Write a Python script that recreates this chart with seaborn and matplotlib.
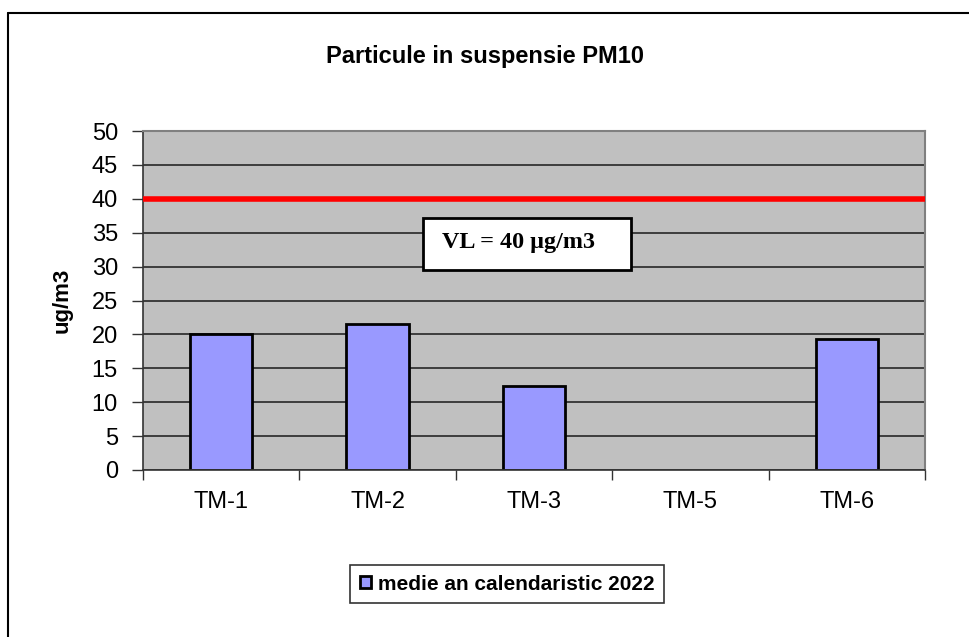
import pandas as pd
import seaborn as sns
import matplotlib.pyplot as plt
from matplotlib.lines import Line2D
from matplotlib.patches import Rectangle

# Chart data
stations = ["TM-1", "TM-2", "TM-3", "TM-5", "TM-6"]
pm10_mean = [20.0, 21.5, 12.4, float("nan"), 19.3]
series_label = "medie an calendaristic 2022"
limit_value = 40
limit_text = "VL = 40 µg/m3"
y_ticks = list(range(0, 55, 5))

df = pd.DataFrame({"station": stations, "value": pm10_mean})

sns.set_style("white")
plt.rcParams["font.family"] = ["Liberation Sans", "DejaVu Sans"]
plt.rcParams["text.color"] = "black"
plt.rcParams["axes.labelcolor"] = "black"
plt.rcParams["xtick.color"] = "black"
plt.rcParams["ytick.color"] = "black"

fig = plt.figure(figsize=(9.7, 6.37), dpi=100)
ax = fig.add_axes([0.1474, 0.2622, 0.8062, 0.5321])
ax.set_facecolor("#C0C0C0")

# Grid lines behind the bars
ax.set_axisbelow(True)
ax.yaxis.grid(True, color="#333333", lw=1.3)

sns.barplot(
    data=df,
    x="station",
    y="value",
    color="#9999FF",
    saturation=1,
    width=0.4,
    edgecolor="black",
    linewidth=2,
    label=series_label,
    ax=ax,
)
if ax.get_legend() is not None:
    ax.get_legend().remove()

# Limit value line
ax.axhline(limit_value, color="#FF0000", lw=4, zorder=3)

ax.set_ylim(0, 50)
ax.set_xlim(-0.5, len(stations) - 0.5)
ax.set_yticks(y_ticks)
ax.tick_params(axis="y", labelsize=17, length=8, width=1, color="#333333",
               labelcolor="black", direction="out", left=True, pad=10)
ax.tick_params(axis="x", which="major", labelsize=17, length=0, pad=15,
               labelcolor="black")
ax.set_xticks([i - 0.5 for i in range(len(stations) + 1)], minor=True)
ax.tick_params(axis="x", which="minor", length=7, width=1, color="#333333",
               direction="out", bottom=True)

ax.set_xlabel("")
ax.set_ylabel("ug/m3", fontsize=16, fontweight="bold", labelpad=14)

for side in ["top", "right"]:
    ax.spines[side].set_color("#808080")
    ax.spines[side].set_linewidth(1.5)
for side in ["left", "bottom"]:
    ax.spines[side].set_color("#333333")
    ax.spines[side].set_linewidth(1.2)

# Limit value text box
ax.add_patch(Rectangle((1.29, 29.5), 1.33, 7.6, facecolor="white",
                       edgecolor="black", linewidth=2, zorder=5))
ax.text(1.90, 33.5, limit_text, ha="center", va="center", fontsize=17.4,
        fontweight="bold", family=["Liberation Serif", "DejaVu Serif"],
        zorder=6)

fig.text(0.5, 1 - 57 / 637, "Particule in suspensie PM10", ha="center",
         va="center", fontsize=17, fontweight="bold")

handles, labels = ax.get_legend_handles_labels()
leg = fig.legend(handles[:1], labels[:1], loc="center",
                 bbox_to_anchor=(507 / 970, 1 - 584 / 637),
                 fontsize=15, frameon=True, fancybox=False,
                 handlelength=0.55, handleheight=0.55, handletextpad=0.3,
                 borderpad=0.45, borderaxespad=0)
leg.get_frame().set_edgecolor("black")
leg.get_frame().set_linewidth(1.2)
for t in leg.get_texts():
    t.set_fontweight("bold")

# Outer chart border (top and left only visible)
fig.add_artist(Line2D([8 / 970, 1], [1 - 13 / 637, 1 - 13 / 637],
                      color="black", lw=1.5, transform=fig.transFigure))
fig.add_artist(Line2D([8 / 970, 8 / 970], [0, 1 - 13 / 637],
                      color="black", lw=1.5, transform=fig.transFigure))

fig.savefig("out.png", dpi=100)
